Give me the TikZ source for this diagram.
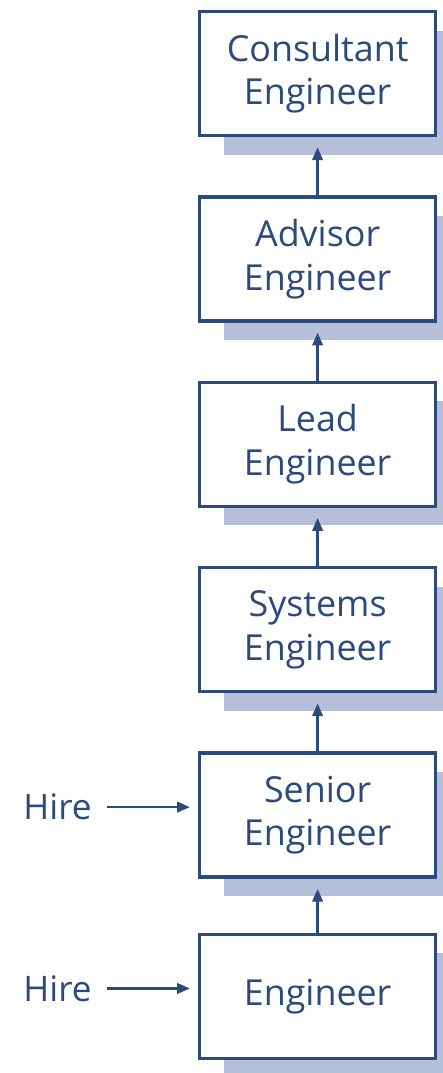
\documentclass[tikz,border=0pt]{standalone}
\usepackage{fontspec}
\setmainfont{Open Sans}
\usepackage{xcolor}
\usetikzlibrary{arrows.meta,positioning,shadows}

\definecolor{ladderblue}{HTML}{2C4A7C}
\definecolor{shadowblue}{HTML}{B5BFDA}

\tikzset{
    rankbox/.style={draw=ladderblue, line width=2.4pt, fill=white, rectangle,
        minimum width=5.9cm, minimum height=3.1cm, align=center,
        text=ladderblue, font=\fontsize{25.5}{31}\selectfont,
        drop shadow={shadow xshift=0.6cm, shadow yshift=-0.475cm, fill=shadowblue, opacity=1}},
    hirelabel/.style={inner sep=0pt, text=ladderblue, font=\fontsize{25}{31}\selectfont},
    promote/.style={draw=ladderblue, line width=1.8pt, -{Triangle[length=0.32cm,width=0.26cm]}}
}

\begin{document}
\begin{tikzpicture}[node distance=1.45cm]
    \useasboundingbox (0,0) rectangle (11.05,-26.825);

    \node (consultant) [rankbox] at (7.94,-1.84) {Consultant\\Engineer};
    \node (advisor) [rankbox, below=of consultant] {Advisor\\Engineer};
    \node (lead) [rankbox, below=of advisor] {Lead\\Engineer};
    \node (systems) [rankbox, below=of lead] {Systems\\Engineer};
    \node (senior) [rankbox, below=of systems] {Senior\\Engineer};
    \node (engineer) [rankbox, below=1.35cm of senior] {Engineer};

    \node (hiresenior) [hirelabel, left=2.65cm of senior, yshift=0.2cm] {Hire};
    \node (hireengineer) [hirelabel, left=2.65cm of engineer, yshift=0.2cm] {Hire};

    \draw [promote, shorten >=0.25cm] (engineer) -- (senior);
    \draw [promote, shorten >=0.25cm] (senior) -- (systems);
    \draw [promote, shorten >=0.25cm] (systems) -- (lead);
    \draw [promote, shorten >=0.25cm] (lead) -- (advisor);
    \draw [promote, shorten >=0.25cm] (advisor) -- (consultant);

    \draw [promote, shorten <=0.375cm, shorten >=0.2cm] (hiresenior.east) -- (hiresenior.east -| senior.west);
    \draw [promote, shorten <=0.375cm, shorten >=0.2cm] (hireengineer.east) -- (hireengineer.east -| engineer.west);
\end{tikzpicture}
\end{document}
